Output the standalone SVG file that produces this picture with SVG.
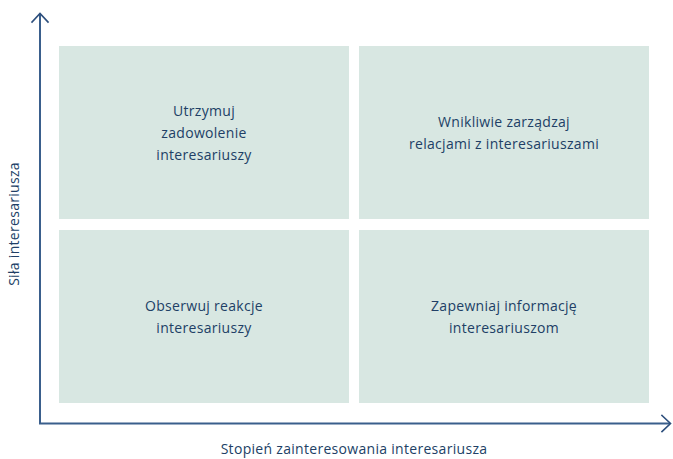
<svg xmlns="http://www.w3.org/2000/svg" width="673" height="459" viewBox="0 0 673 459">
  <style>
    .quad { fill: #d8e7e2; }
    .axis { stroke: #3a5f8c; stroke-width: 2; fill: none; }
    .head { stroke: #2c4e7c; stroke-width: 1.6; fill: none; stroke-linecap: square; }
    text { font-family: "Open Sans", "Liberation Sans", sans-serif; font-size: 14px; letter-spacing: 0.3px; fill: #213f66; text-anchor: middle; }
  </style>
  <rect width="673" height="459" fill="#ffffff"/>

  <g id="connectors">
    <line class="axis" x1="40" y1="14" x2="40" y2="424"/>
    <polyline class="head" points="32,22 40,13.5 48,22"/>
    <line class="axis" x1="39" y1="423.5" x2="670" y2="423.5"/>
    <polyline class="head" points="662,415.5 670.5,423.5 662,431.5"/>
  </g>

  <g id="q-keep-satisfied">
    <rect class="quad" x="59" y="46" width="290" height="173"/>
    <text x="204" y="116">Utrzymuj</text>
    <text x="204" y="138">zadowolenie</text>
    <text x="204" y="160">interesariuszy</text>
  </g>
  <g id="q-manage-closely">
    <rect class="quad" x="359" y="46" width="290" height="173"/>
    <text x="504" y="127">Wnikliwie zarządzaj</text>
    <text x="504" y="149">relacjami z interesariuszami</text>
  </g>
  <g id="q-monitor">
    <rect class="quad" x="59" y="230" width="290" height="173"/>
    <text x="204" y="311">Obserwuj reakcje</text>
    <text x="204" y="333">interesariuszy</text>
  </g>
  <g id="q-keep-informed">
    <rect class="quad" x="359" y="230" width="290" height="173"/>
    <text x="504" y="311">Zapewniaj informację</text>
    <text x="504" y="333">interesariuszom</text>
  </g>

  <g id="labels">
    <text x="0" y="0" transform="translate(19,224) rotate(-90)">Siła interesariusza</text>
    <text x="354" y="454">Stopień zainteresowania interesariusza</text>
  </g>
</svg>
